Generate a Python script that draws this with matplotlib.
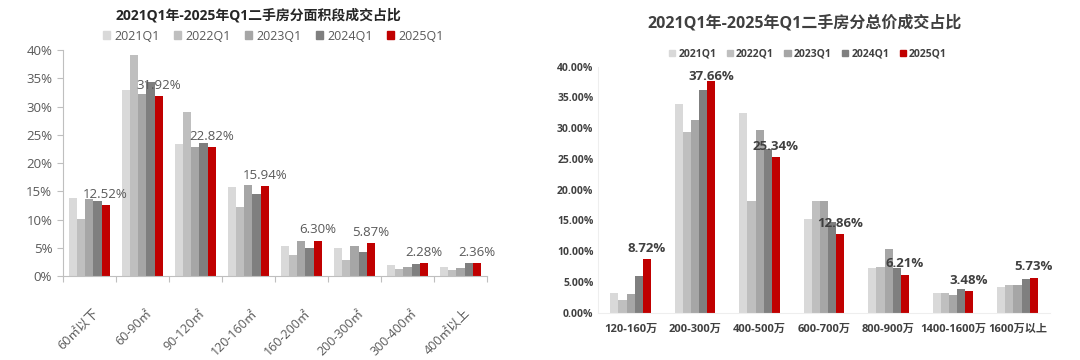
import numpy as np
import matplotlib
matplotlib.use('Agg')
import matplotlib.pyplot as plt
from matplotlib.patches import Patch
from matplotlib.ticker import FuncFormatter

plt.rcParams['font.family'] = ['Open Sans', 'Noto Sans CJK SC', 'DejaVu Sans']

# --- Data ---
years = ['2021Q1', '2022Q1', '2023Q1', '2024Q1', '2025Q1']
year_colors = ['#D9D9D9', '#BFBFBF', '#A6A6A6', '#7F7F7F', '#C00000']

area_cats = ['60㎡以下', '60-90㎡', '90-120㎡', '120-160㎡', '160-200㎡',
             '200-300㎡', '300-400㎡', '400㎡以上']
area_2021 = [13.9, 33.0, 23.4, 15.7, 5.3, 4.9, 1.9, 1.6]
area_2022 = [10.1, 39.2, 29.1, 12.3, 3.7, 2.8, 1.3, 1.1]
area_2023 = [13.6, 32.2, 22.8, 16.2, 6.2, 5.3, 1.7, 1.4]
area_2024 = [13.3, 34.3, 23.6, 14.6, 5.0, 4.3, 2.2, 2.3]
area_2025 = [12.52, 31.92, 22.82, 15.94, 6.30, 5.87, 2.28, 2.36]

price_cats = ['120-160万', '200-300万', '400-500万', '600-700万',
              '800-900万', '1400-1600万', '1600万以上']
price_2021 = [3.2, 33.9, 32.4, 15.3, 7.3, 3.3, 4.2]
price_2022 = [2.15, 29.4, 18.1, 18.1, 7.4, 3.2, 4.5]
price_2023 = [3.0, 31.3, 29.7, 18.2, 10.3, 2.9, 4.5]
price_2024 = [6.0, 36.2, 26.6, 14.7, 7.3, 3.8, 5.5]
price_2025 = [8.72, 37.66, 25.34, 12.86, 6.21, 3.48, 5.73]

area_series = [area_2021, area_2022, area_2023, area_2024, area_2025]
price_series = [price_2021, price_2022, price_2023, price_2024, price_2025]

TEXT = '#595959'
AXIS = '#BFBFBF'

fig = plt.figure(figsize=(10.8, 3.6), dpi=100)

# ── Left: by area ──────────────────────────────────────────
ax1 = fig.add_axes([0.058, 0.233, 0.393, 0.628])
n = len(area_cats)
x = np.arange(n)
bw = 0.155
for i, (vals, col) in enumerate(zip(area_series, year_colors)):
    ax1.bar(x + (i - 2) * bw, vals, width=bw, color=col, label=years[i])
for xi, v in zip(x, area_2025):
    ax1.annotate(f'{v:.2f}%', (xi + 2 * bw, v), xytext=(0, 3),
                 textcoords='offset points', ha='center', va='bottom',
                 fontsize=9.5, color=TEXT)
ax1.set_xlim(-0.5, n - 0.5)
ax1.set_ylim(0, 40)
ax1.set_yticks(np.arange(0, 41, 5))
ax1.yaxis.set_major_formatter(FuncFormatter(lambda v, p: f'{v:.0f}%'))
ax1.set_xticks(np.arange(-0.5, n, 1.0))
ax1.set_xticklabels([])
ax1.set_xticks(x + 0.05, minor=True)
ax1.set_xticklabels(area_cats, minor=True, rotation=45, ha='right',
                    rotation_mode='anchor', fontsize=9, color=TEXT)
ax1.tick_params(axis='x', which='minor', length=0, pad=22)
ax1.tick_params(axis='x', which='major', length=4, color=AXIS)
ax1.tick_params(axis='y', length=4, color=AXIS, labelsize=9.5, labelcolor=TEXT)
for s in ['top', 'right']:
    ax1.spines[s].set_visible(False)
for s in ['left', 'bottom']:
    ax1.spines[s].set_color(AXIS)
fig.text(0.239, 0.958, '2021Q1年-2025年Q1二手房分面积段成交占比', ha='center',
         va='center', fontsize=10, fontweight='bold', color='#262626')
handles = [Patch(color=c) for c in year_colors]
fig.legend(handles, years, loc='center', bbox_to_anchor=(0.253, 0.9), ncol=5,
           frameon=False, fontsize=9, handlelength=0.6, handleheight=0.6,
           handletextpad=0.3, columnspacing=1.15, labelcolor=TEXT)

# ── Right: by total price ──────────────────────────────────
ax2 = fig.add_axes([0.554, 0.131, 0.418, 0.684])
m = len(price_cats)
x2 = np.arange(m)
bw2 = 0.125
for i, (vals, col) in enumerate(zip(price_series, year_colors)):
    ax2.bar(x2 + (i - 2) * bw2, vals, width=bw2, color=col, label=years[i])
for xi, v in zip(x2, price_2025):
    ax2.annotate(f'{v:.2f}%', (xi + 2 * bw2, min(v, 36.6)), xytext=(0, 3),
                 textcoords='offset points', ha='center', va='bottom',
                 fontsize=9.5, fontweight='bold', color='#404040')
ax2.set_xlim(-0.5, m - 0.5)
ax2.set_ylim(0, 40)
ax2.set_yticks(np.arange(0, 41, 5))
ax2.yaxis.set_major_formatter(FuncFormatter(lambda v, p: f'{v:.2f}%'))
ax2.set_xticks(x2)
ax2.set_xticklabels(price_cats, fontsize=8, fontweight='bold', color='#404040')
ax2.tick_params(axis='x', length=0, pad=8)
ax2.tick_params(axis='y', length=0, labelsize=7.5, labelcolor='#404040')
for lab in ax2.get_yticklabels():
    lab.set_fontweight('bold')
for s in ['top', 'right']:
    ax2.spines[s].set_visible(False)
for s in ['left', 'bottom']:
    ax2.spines[s].set_color('#EEEEEE')
fig.text(0.745, 0.935, '2021Q1年-2025年Q1二手房分总价成交占比', ha='center',
         va='center', fontsize=11.5, fontweight='bold', color='#404040')
leg2 = fig.legend(handles, years, loc='center', bbox_to_anchor=(0.748, 0.85),
                  ncol=5, frameon=False, fontsize=7.5, handlelength=0.6,
                  handleheight=0.6, handletextpad=0.3, columnspacing=1.0,
                  labelcolor='#404040')
for t in leg2.get_texts():
    t.set_fontweight('bold')

fig.savefig('out.png', dpi=100, facecolor='white')
